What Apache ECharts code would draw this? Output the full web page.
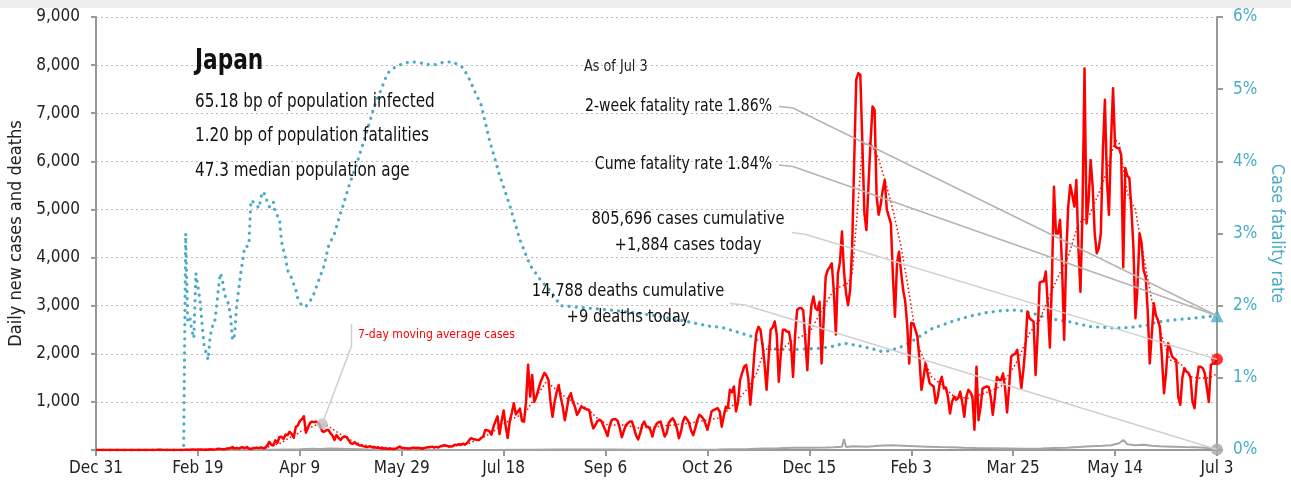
<!DOCTYPE html>
<html>
<head>
<meta charset="utf-8" />
<title>Japan</title>
<script src="https://cdn.jsdelivr.net/npm/echarts/dist/echarts.min.js"></script>
<style>
html, body { margin: 0; padding: 0; background: #fff; }
#main { width: 1291px; height: 488px; }
</style>
</head>
<body>
<div id="main"></div>
<script>
// x axis is day index from Dec 31 (day 0) to Jul 3 (day 550)
var tickLabels = ['Dec 31', 'Feb 19', 'Apr 9', 'May 29', 'Jul 18', 'Sep 6', 'Oct 26', 'Dec 15', 'Feb 3', 'Mar 25', 'May 14', 'Jul 3'];

// daily new cases, one value per day, a row is one week
var cases = [
  0,0,0,0,0,0,0,
  0,0,0,0,0,0,0,
  0,0,1,0,0,0,0,
  0,0,0,0,1,1,0,
  2,0,4,3,3,0,0,
  0,2,0,0,0,0,0,
  1,0,8,7,5,9,10,
  6,8,10,9,7,10,5,
  14,11,10,15,25,20,15,
  14,30,32,42,60,30,45,
  30,50,55,40,60,30,20,
  40,40,50,40,55,35,40,
  90,170,110,95,200,150,270,
  275,230,320,310,380,330,255,
  480,510,600,640,700,360,470,
  560,590,580,590,570,500,390,
  380,410,420,350,300,210,310,
  250,210,260,280,270,200,140,
  130,160,120,100,95,80,70,
  60,75,70,50,55,45,48,
  30,35,30,28,30,25,20,
  25,50,70,45,40,35,30,
  30,45,48,40,45,35,25,
  40,50,55,60,70,50,65,
  50,80,90,100,90,70,75,
  80,110,100,120,105,130,110,
  140,200,245,230,220,210,210,
  250,280,416,410,390,320,480,
  600,700,330,600,820,500,250,
  600,770,970,740,800,860,600,
  590,1000,1770,1110,1560,1000,1100,
  1250,1400,1500,1600,1550,1450,1000,
  690,1000,1200,1350,1100,900,620,
  850,1100,1180,1000,900,730,800,
  900,880,860,840,830,600,450,
  520,600,630,600,500,400,290,
  500,620,640,640,600,450,265,
  400,520,560,590,590,450,300,
  220,350,520,590,490,480,420,
  280,450,540,580,590,440,280,
  350,560,620,660,580,450,245,
  380,600,690,640,560,400,310,
  450,620,730,700,650,550,420,
  600,800,830,850,870,800,485,
  700,900,870,1250,1200,1320,800,
  1000,1450,1600,1730,1770,1500,940,
  1400,2000,2430,2560,2500,2180,1800,
  1250,1900,2500,2550,2670,2400,1420,
  2000,2500,2500,2460,2460,2200,1520,
  2400,2910,2950,2950,2900,2300,1660,
  2500,3000,3190,2950,2910,3080,1800,
  2700,3600,3740,3800,3880,3300,2400,
  3670,3900,4540,3700,3260,3010,3330,
  4230,6000,7700,7830,7800,6380,4920,
  4570,5500,6380,7140,7070,5270,4890,
  5100,5400,5610,5000,4850,4710,3600,
  2770,3880,4120,3700,3330,3100,2600,
  1800,2640,2630,2500,2360,1900,1250,
  1500,1800,1600,1390,1350,1320,970,
  1100,1400,1520,1280,1300,1100,760,
  1000,1110,1040,1080,1210,1000,690,
  1100,1250,1200,1110,420,1730,620,
  900,1280,1300,1320,1310,1100,730,
  1100,1520,1460,1450,1590,1300,780,
  1300,1940,1980,2000,2080,1700,1280,
  1660,2150,2880,2740,2700,2670,1560,
  2400,3480,3500,3500,3710,3000,2130,
  3500,5470,4500,4500,4780,3800,2290,
  4000,5060,5510,5300,5060,5610,4200,
  3290,4950,7930,4710,5200,6030,5470,
  4500,4090,4200,4500,6200,7280,5600,
  4890,6400,7520,6310,6280,6270,6130,
  3800,5860,5700,5650,5000,4200,2740,
  3400,4500,4300,3740,3600,2900,1800,
  2400,3050,2800,2700,2560,1900,1180,
  1600,2220,2100,1940,1900,1870,1100,
  940,1500,1700,1630,1600,1500,1000,
  870,1400,1730,1730,1700,1600,1300,
  1000,1770,1800,1800,1884
];

// 7-day moving average of cases, [day, value]
var maCases = [
  [0,0],[40,1],[50,5],[56,10],[63,20],[70,40],[77,40],[84,60],[88,110],[91,150],
  [95,260],[98,310],[101,400],[105,460],[108,520],[111,545],[114,500],[118,380],[121,300],[125,208],
  [128,150],[131,104],[135,80],[139,65],[145,35],[150,35],[155,40],[160,45],[166,55],[172,80],
  [178,100],[183,140],[188,230],[193,330],[198,480],[203,620],[207,700],[211,790],[214,1000],[217,1180],
  [221,1420],[226,1250],[231,1075],[236,970],[241,866],[246,658],[251,520],[259,520],[267,451],[275,485],
  [283,520],[291,554],[300,624],[306,670],[313,950],[319,1240],[324,1580],[328,2100],[336,2080],[342,2290],
  [350,2430],[356,2900],[362,3330],[369,3470],[371,3650],[374,5200],[376,6350],[380,6380],[384,6050],[388,5470],
  [391,4990],[395,4230],[398,3500],[401,2700],[404,2100],[406,1900],[410,1520],[414,1390],[421,1110],[428,1075],
  [436,1180],[444,1320],[452,1840],[458,2430],[463,2700],[467,3119],[472,3600],[477,4019],[482,4713],[487,4850],
  [492,5336],[496,5800],[500,6445],[502,6376],[506,5336],[510,4990],[514,4019],[518,3119],[523,2356],[527,1871],
  [532,1802],[537,1524],[542,1490],[546,1500],[549,1560],[550,1580]
];
var maMarkerIndex = 15; // point carrying the "7-day moving average cases" label

// daily deaths, [day, value]
var deaths = [
  [0,0],[44,1],[60,2],[75,3],[85,5],[92,10],[100,15],[106,25],[110,20],[115,30],
  [120,25],[125,20],[130,15],[135,10],[140,5],[150,3],[165,2],[180,2],[195,1],[205,4],
  [215,6],[225,10],[235,12],[245,10],[255,8],[265,7],[275,6],[285,6],[295,6],[305,10],
  [312,15],[320,20],[328,30],[335,35],[342,45],[350,45],[358,50],[362,55],[366,70],[367,230],
  [368,60],[372,80],[378,70],[384,90],[390,100],[396,90],[402,80],[408,70],[414,60],[420,55],
  [426,45],[432,40],[440,35],[448,30],[456,25],[464,30],[470,40],[476,45],[482,60],[488,80],
  [494,90],[498,100],[502,140],[504,210],[506,120],[510,100],[514,110],[518,90],[522,80],[528,70],
  [534,60],[540,55],[546,40],[550,9]
];

// case fatality rate in percent, [day, value]
var cfr = [
  [0,0],[43,0],[44,3.0],[45,1.8],[46,1.85],[47,1.66],[48,1.55],[49,2.45],[50,2.26],[51,2.08],
  [52,1.76],[53,1.45],[54,1.35],[55,1.25],[56,1.57],[57,1.71],[58,1.73],[59,1.94],[60,2.22],[61,2.45],
  [62,2.36],[63,2.17],[64,2.08],[65,2.03],[66,1.85],[67,1.52],[68,1.59],[69,1.99],[70,2.22],[71,2.45],
  [72,2.63],[73,2.82],[74,2.82],[75,2.84],[76,3.46],[77,3.44],[78,3.42],[80,3.35],[81,3.51],[82,3.58],
  [83,3.53],[84,3.44],[85,3.37],[87,3.44],[88,3.28],[90,3.21],[91,2.89],[93,2.66],[94,2.49],[96,2.38],
  [98,2.22],[99,2.10],[101,2.0],[103,1.99],[105,2.06],[107,2.17],[109,2.33],[112,2.56],[114,2.82],[117,3.0],
  [119,3.19],[121,3.37],[124,3.65],[128,3.97],[133,4.43],[137,4.8],[140,5.0],[143,5.22],[147,5.31],[151,5.36],
  [155,5.38],[160,5.36],[165,5.33],[170,5.37],[175,5.38],[180,5.3],[183,5.15],[186,4.96],[189,4.78],[193,4.3],
  [198,3.81],[203,3.39],[208,2.91],[213,2.56],[218,2.36],[223,2.2],[228,2.0],[240,1.97],[252,1.94],[265,1.9],
  [277,1.85],[290,1.78],[302,1.71],[307,1.7],[314,1.64],[322,1.57],[328,1.45],[334,1.4],[340,1.39],[348,1.4],
  [356,1.41],[362,1.44],[367,1.48],[373,1.45],[380,1.41],[386,1.36],[390,1.38],[395,1.43],[400,1.5],[405,1.59],
  [410,1.68],[414,1.72],[420,1.78],[428,1.85],[436,1.9],[444,1.93],[452,1.94],[460,1.89],[468,1.82],[477,1.78],
  [488,1.71],[500,1.69],[508,1.7],[516,1.73],[520,1.77],[528,1.8],[536,1.82],[550,1.86]
];

var FONT = "'Liberation Sans Narrow', 'DejaVu Sans Condensed', 'Roboto', sans-serif";
var RED = '#ff0000';
var TEAL = '#4bacc6';
var GREY = '#a6a6a6';
var lastDay = cases.length - 1;

var myChart = echarts.init(document.getElementById('main'));

var option = {
  animation: false,
  backgroundColor: '#fff',
  textStyle: { fontFamily: FONT },
  grid: { left: 96, right: 74, top: 17, bottom: 38, containLabel: false, outerBoundsMode: 'none' },
  xAxis: {
    type: 'value', min: 0, max: 550, interval: 50,
    axisLine: { lineStyle: { color: '#999', width: 2 } },
    axisTick: { length: 6, lineStyle: { color: '#999', width: 2 } },
    splitLine: { show: false },
    axisLabel: {
      margin: 10, fontSize: 17, color: '#222', fontFamily: FONT,
      formatter: function (v) { return tickLabels[Math.round(v / 50)]; }
    }
  },
  yAxis: [{
    type: 'value', min: 0, max: 9000, interval: 1000,
    name: 'Daily new cases and deaths', nameLocation: 'middle', nameGap: 69,
    nameTextStyle: { fontSize: 18, color: '#222', fontFamily: FONT },
    axisLine: { show: true, lineStyle: { color: '#999', width: 2 } },
    axisTick: { show: true, length: 5, lineStyle: { color: '#999', width: 2 } },
    splitLine: { lineStyle: { color: '#bbb', type: [2, 3], width: 1 } },
    axisLabel: {
      margin: 16, fontSize: 17, color: '#222', fontFamily: FONT,
      formatter: function (v) { return v === 0 ? '' : v.toLocaleString('en-US'); }
    }
  }, {
    type: 'value', min: 0, max: 6, interval: 1,
    name: 'Case fatality rate', nameLocation: 'middle', nameGap: 48, nameRotate: -90,
    nameTextStyle: { fontSize: 18, color: TEAL, fontFamily: FONT },
    axisLine: { show: true, lineStyle: { color: '#999', width: 2 } },
    axisTick: { show: true, length: 6, lineStyle: { color: '#999', width: 2 } },
    splitLine: { show: false },
    axisLabel: {
      margin: 16, fontSize: 17, color: TEAL, fontFamily: FONT,
      formatter: function (v) { return v + '%'; }
    }
  }],
  series: [{
    name: 'Case fatality rate', type: 'line', yAxisIndex: 1, data: cfr,
    showSymbol: false, z: 3,
    lineStyle: { color: TEAL, width: 3.2, type: [0.1, 7], cap: 'round' }
  }, {
    name: 'Deaths', type: 'line', data: deaths, showSymbol: false, z: 4,
    lineStyle: { color: GREY, width: 2 }
  }, {
    name: 'Cases', type: 'line', showSymbol: false, z: 5,
    data: cases.map(function (v, i) { return [i, v]; }),
    lineStyle: { color: RED, width: 2.5, join: 'round' }
  }, {
    name: '7-day moving average cases', type: 'line', data: maCases, showSymbol: false, z: 6,
    lineStyle: { color: RED, width: 1.5, type: [1.5, 2.5] }
  }, {
    // end markers and the moving-average callout marker
    type: 'scatter', z: 10, symbolSize: 12,
    data: [
      { value: [lastDay, cases[lastDay]], itemStyle: { color: RED } },
      { value: [deaths[deaths.length - 1][0], deaths[deaths.length - 1][1]], itemStyle: { color: GREY } },
      { value: maCases[maMarkerIndex], symbolSize: 11, itemStyle: { color: '#bfbfbf' } }
    ]
  }, {
    type: 'scatter', yAxisIndex: 1, z: 10, symbol: 'triangle', symbolSize: 13,
    data: [cfr[cfr.length - 1]], itemStyle: { color: TEAL }
  }]
};
myChart.setOption(option);

// annotation texts and leader lines
var pCfr = myChart.convertToPixel({ xAxisIndex: 0, yAxisIndex: 1 }, cfr[cfr.length - 1]);
var pCases = myChart.convertToPixel({ xAxisIndex: 0, yAxisIndex: 0 }, [lastDay, cases[lastDay]]);
var pDeaths = myChart.convertToPixel({ xAxisIndex: 0, yAxisIndex: 0 }, deaths[deaths.length - 1]);
var pMa = myChart.convertToPixel({ xAxisIndex: 0, yAxisIndex: 0 }, maCases[maMarkerIndex]);

// condensed look: squeeze text horizontally around its anchor
function txt(x, y, s, size, align, color, weight, sx) {
  return {
    type: 'text', x: x, y: y, z: 20, scaleX: sx || 0.92,
    style: {
      text: s, fontSize: size, fontFamily: FONT, fill: color || '#111',
      align: align || 'left', verticalAlign: 'middle', fontWeight: weight || 'normal',
      lineHeight: size + 9
    }
  };
}
function leader(points, color) {
  return { type: 'polyline', z: 15, shape: { points: points }, style: { stroke: color, lineWidth: 1.5, fill: null } };
}

myChart.setOption({
  graphic: [
    { type: 'rect', shape: { x: 0, y: 0, width: 1291, height: 8 }, style: { fill: '#eeeeee' }, z: 1 },
    txt(195, 62, 'Japan', 28, 'left', '#111', 'bold', 0.86),
    txt(195, 102, '65.18 bp of population infected', 19, 'left', '#111', 'normal', 0.89),
    txt(195, 136, '1.20 bp of population fatalities', 19, 'left', '#111', 'normal', 0.89),
    txt(195, 171, '47.3 median population age', 19, 'left', '#111', 'normal', 0.89),
    txt(584, 67, 'As of Jul 3', 15, 'left', '#222', 'normal', 0.95),
    txt(772, 107, '2-week fatality rate 1.86%', 17, 'right', '#111', 'normal', 0.92),
    txt(772, 165, 'Cume fatality rate 1.84%', 17, 'right', '#111', 'normal', 0.92),
    txt(688, 233, '805,696 cases cumulative\n+1,884 cases today', 17, 'center', '#111', 'normal', 0.96),
    txt(628, 305, '14,788 deaths cumulative\n+9 deaths today', 17, 'center', '#111', 'normal', 0.96),
    txt(358, 335, '7-day moving average cases', 13, 'left', RED, 'normal', 0.93),
    leader([[779, 106.5], [793, 108], pCfr], '#b3b3b3'),
    leader([[779, 165], [793, 166.5], pCfr], '#b3b3b3'),
    leader([[792, 232.5], [806, 234.5], pCases], '#d0d0d0'),
    leader([[730, 303.5], [745, 305], pDeaths], '#d0d0d0'),
    leader([pMa, [351.5, 346], [351.5, 324]], '#cfcfcf')
  ]
});
</script>
</body>
</html>
